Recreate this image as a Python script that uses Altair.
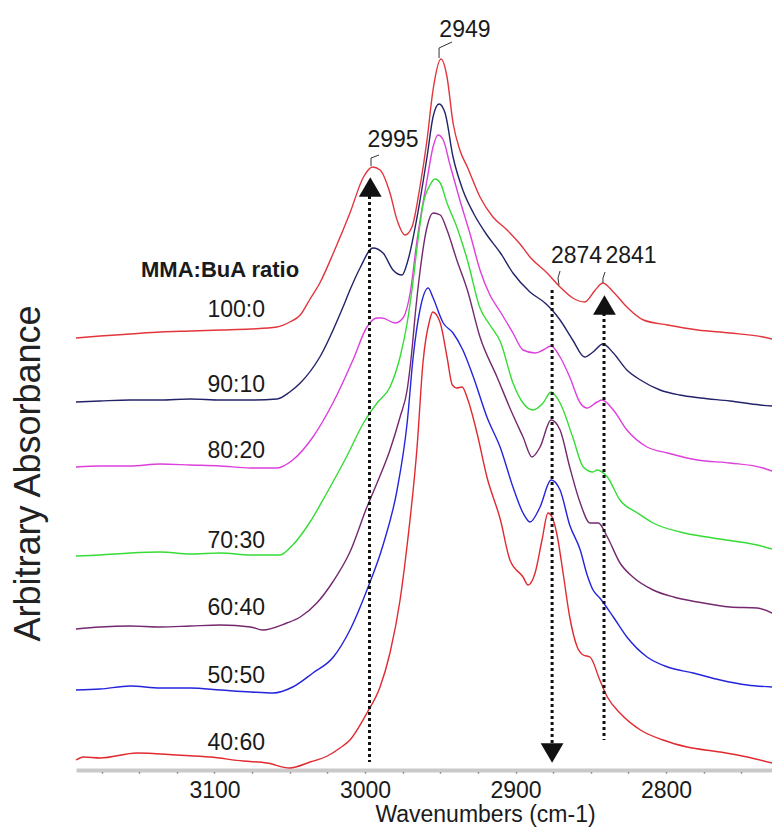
import altair as alt
import pandas as pd

FONT = "Liberation Sans"

ratios = ["100:0", "90:10", "80:20", "70:30", "60:40", "50:50", "40:60"]
colors = ["#e2353c", "#23236a", "#dd3fdd", "#35dc35", "#74286f", "#2424dc", "#e02a30"]

# ---- spectra (wavenumber, arbitrary absorbance) ----
wn_100_0 = [3192, 3176, 3156, 3136, 3116, 3096, 3076, 3058.5, 3050, 3043, 3036.5, 3030, 3021, 3010, 3001, 2995,
            2990, 2983.4, 2978.7, 2973.4, 2968.8, 2963.5, 2958.8, 2954.8, 2949.5, 2945.5, 2941.5, 2937, 2932, 2923.6,
            2915, 2905.6, 2897, 2890.4, 2879, 2870.4, 2862, 2854, 2847, 2842, 2835, 2826, 2815, 2799, 2779, 2757.5,
            2735.5, 2729.6]
ab_100_0 = [43.2, 43.4, 43.6, 43.8, 43.9, 44.0, 44.1, 44.3, 44.8, 45.5, 47.1, 48.7, 51.7, 55.7, 59.3, 60.3,
            60.0, 57.7, 55.0, 53.5, 54.3, 58.3, 63.0, 68.0, 71.1, 69.3, 64.7, 62.0, 60.3, 57.3,
            55.3, 54.0, 52.6, 51.3, 49.7, 48.3, 47.2, 46.8, 48.0, 48.7, 47.8, 46.3, 45.0, 44.5, 44.0, 43.7,
            43.3, 43.1]

wn_90_10 = [3192, 3176, 3156, 3136, 3116, 3096, 3076, 3058.5, 3050, 3043, 3030, 3014.6, 3010, 3003.3, 2994.7, 2988,
            2981.4, 2975.4, 2971.4, 2965.4, 2958.8, 2954.8, 2950.8, 2946.8, 2941.5, 2935, 2928, 2919, 2910, 2901.7,
            2890.4, 2880.4, 2875.7, 2870.4, 2862, 2854, 2848.5, 2842, 2835, 2826, 2817, 2804, 2791, 2777, 2757.5,
            2737.5, 2729.6]
ab_90_10 = [36.8, 36.9, 37.0, 37.0, 37.1, 37.0, 37.0, 37.1, 37.8, 38.7, 41.3, 46.3, 48.0, 50.2, 52.2, 51.7,
            50.0, 49.5, 51.0, 55.3, 61.3, 65.3, 66.6, 65.7, 61.3, 58.0, 55.7, 53.5, 51.7, 49.7,
            47.8, 46.7, 46.0, 45.0, 43.0, 41.3, 41.8, 42.6, 41.7, 40.0, 39.0, 38.0, 37.5, 37.2, 36.9,
            36.5, 36.4]

wn_80_20 = [3192, 3176, 3156, 3136, 3116, 3096, 3076, 3058.5, 3048, 3034.6, 3021, 3008, 2998.7, 2992, 2988.7, 2980,
            2974.8, 2970, 2965.4, 2958.8, 2954.8, 2951.5, 2948, 2943.5, 2937, 2930, 2923.6, 2917, 2910, 2901.7,
            2895, 2887, 2881.7, 2876.4, 2870.4, 2864, 2857, 2852.4, 2845.8, 2842.5, 2835, 2826, 2812.6, 2799, 2779,
            2757.5, 2735.5, 2729.6]
ab_80_20 = [30.3, 30.4, 30.4, 30.6, 30.5, 30.4, 30.2, 30.2, 31.0, 33.3, 36.8, 41.0, 44.3, 45.2, 45.2, 44.7,
            45.2, 47.7, 53.0, 59.0, 62.3, 63.5, 63.0, 60.5, 57.0, 53.5, 50.0, 47.5, 45.8, 43.7,
            42.0, 41.7, 42.0, 42.4, 41.3, 39.3, 36.7, 36.2, 36.8, 37.0, 36.0, 34.0, 32.3, 31.7, 31.0,
            30.7, 30.2, 29.9]

wn_70_30 = [3192, 3176, 3156, 3136, 3116, 3096, 3076, 3056.5, 3048, 3036.5, 3025, 3012, 3001, 2992, 2983.4, 2976.7,
            2972, 2968.8, 2964.8, 2961.5, 2956.8, 2953.5, 2950, 2945.5, 2939, 2932, 2923.6, 2917, 2910, 2901.7,
            2895, 2888.4, 2881.7, 2876.4, 2870.4, 2862, 2855, 2848.5, 2845.8, 2839, 2830.6, 2819, 2808.6, 2790.7,
            2769, 2739.5, 2729.6]
ab_70_30 = [21.4, 21.5, 21.7, 21.8, 21.6, 21.7, 21.5, 21.5, 22.5, 24.8, 27.8, 31.4, 34.7, 36.7, 38.3, 41.3,
            44.7, 48.0, 53.0, 56.5, 58.5, 59.1, 58.7, 56.7, 54.3, 51.0, 46.2, 44.5, 42.8, 38.7,
            36.7, 36.0, 36.7, 37.8, 36.7, 33.3, 30.3, 29.8, 30.0, 29.3, 27.0, 25.7, 24.7, 23.8,
            23.2, 22.5, 22.1]

wn_60_40 = [3192, 3176, 3156, 3136, 3116, 3096, 3076, 3068, 3052, 3043, 3032, 3021, 3010, 2998.7, 2992, 2983.4,
            2976.7, 2972, 2968.8, 2966.8, 2963.5, 2958.8, 2954.8, 2950, 2945.5, 2939, 2932, 2923.6, 2912.3, 2901.7,
            2895, 2889, 2883.7, 2876.4, 2870.4, 2864, 2857, 2850.5, 2845, 2839, 2830.6, 2822, 2808.6, 2795, 2779,
            2757.5, 2739.5, 2729.6]
ab_60_40 = [14.1, 14.3, 14.4, 14.3, 14.4, 14.5, 14.3, 14.0, 14.7, 15.3, 16.7, 18.9, 21.8, 26.3, 28.7, 32.0,
            35.3, 38.0, 42.0, 45.3, 49.8, 54.3, 55.7, 55.5, 54.0, 51.0, 48.0, 43.3, 39.3, 35.5,
            33.3, 31.3, 32.3, 35.0, 34.0, 30.3, 26.7, 24.7, 24.7, 23.3, 20.7, 19.3, 18.0, 17.3, 16.8,
            16.3, 16.2, 15.7]

wn_50_50 = [3192, 3176, 3156, 3136, 3116, 3096, 3076, 3061, 3048, 3034.6, 3021, 3010, 2998.7, 2988, 2978.7, 2972,
            2968, 2963.5, 2958, 2955, 2948, 2941.5, 2935, 2928, 2919, 2910, 2901.7, 2895, 2890.4, 2883.7,
            2876.4, 2870.4, 2864, 2857, 2852.4, 2848.5, 2844, 2835, 2826, 2812.6, 2799, 2782, 2764, 2746, 2729.6]
ab_50_50 = [8.0, 8.1, 8.4, 8.2, 8.2, 8.0, 7.8, 7.7, 8.3, 9.7, 11.3, 14.0, 18.0, 22.5, 28.0, 34.7,
            41.3, 46.0, 48.2, 47.3, 44.7, 43.7, 42.0, 39.3, 35.3, 32.2, 28.3, 25.7, 24.8, 26.3,
            29.0, 28.0, 24.5, 22.0, 19.5, 18.0, 17.2, 15.3, 13.3, 11.3, 10.3, 9.7, 9.0, 8.5, 8.3]

wn_40_60 = [3192, 3187, 3176, 3151.5, 3125, 3103, 3081, 3065, 3050, 3036.5, 3025, 3016.6, 3010, 2998.7, 2990, 2983.4,
            2976.7, 2972, 2965.4, 2961.5, 2957, 2955, 2950, 2945.5, 2942, 2939, 2935.5, 2931.6, 2925.6, 2919,
            2910, 2903.7, 2895, 2891.7, 2887, 2882.4, 2878.4, 2875.7, 2872.4, 2868.4, 2864, 2859, 2855, 2850.5,
            2844, 2839, 2830.6, 2817, 2802, 2786, 2764, 2746, 2729.6]
ab_40_60 = [1.0, 1.3, 1.2, 1.7, 1.5, 1.3, 0.9, 0.7, 0.2, 0.8, 1.4, 2.2, 3.0, 5.7, 8.3, 11.7,
            17.0, 22.5, 32.3, 40.7, 45.0, 45.8, 44.7, 41.3, 38.5, 38.2, 38.3, 37.0, 33.7, 29.3,
            25.0, 21.0, 19.3, 18.5, 19.7, 23.0, 25.7, 25.3, 23.5, 19.7, 15.3, 12.3, 11.5, 11.3,
            9.0, 7.3, 5.7, 4.0, 3.0, 2.3, 1.8, 1.3, 0.7]

series_wn = [wn_100_0, wn_90_10, wn_80_20, wn_70_30, wn_60_40, wn_50_50, wn_40_60]
series_ab = [ab_100_0, ab_90_10, ab_80_20, ab_70_30, ab_60_40, ab_50_50, ab_40_60]

# ---- ratio labels ----
label_wn = [3066.4] * 7
label_ab = [45.3, 37.8, 31.2, 22.2, 15.5, 8.7, 2.0]
header_text = ["MMA:BuA ratio"]
header_wn = [3096.3]
header_ab = [49.3]

# ---- peak annotations ----
peak_text = ["2949", "2995", "2874", "2841"]
peak_wn = [2933.6, 2981.4, 2859.5, 2823.3]
peak_ab = [73.3, 62.3, 50.7, 50.7]

lead_id = ["2949"] * 3 + ["2995"] * 3 + ["2874"] * 3 + ["2841"] * 3
lead_wn = [2950.8, 2950.8, 2942.2, 2996, 2996, 2990.7, 2871.1, 2871.8, 2870.4, 2841.9, 2841.9, 2840.5]
lead_ab = [71.2, 72.2, 72.8, 60.4, 61.2, 61.5, 48.5, 49.2, 49.9, 48.7, 49.2, 49.8]

arrow_wn = [2997, 2875.7, 2841.2]
arrow_ab = [57.4, 48.0, 45.7]
arrow_ab2 = [0.8, 2.5, 3.0]
tri_up_wn = [2996.5, 2840.9]
tri_up_ab = [58.3, 46.5]
tri_dn_wn = [2875.7]
tri_dn_ab = [1.7]

tick_values = [2750 + 25 * i for i in range(18)]

# ---- tables ----
rows = []
for name, wns, abs_ in zip(ratios, series_wn, series_ab):
    assert len(wns) == len(abs_), name
    for w, a in zip(wns, abs_):
        rows.append({"ratio": name, "wn": w, "ab": a})
df_lines = pd.DataFrame(rows)

df_labels = pd.DataFrame({"text": ratios, "wn": label_wn, "ab": label_ab})
df_header = pd.DataFrame({"text": header_text, "wn": header_wn, "ab": header_ab})
df_peaks = pd.DataFrame({"text": peak_text, "wn": peak_wn, "ab": peak_ab})
df_lead = pd.DataFrame({"id": lead_id, "wn": lead_wn, "ab": lead_ab, "i": list(range(len(lead_id)))})
df_arrow = pd.DataFrame({"wn": arrow_wn, "ab": arrow_ab, "ab2": arrow_ab2})
df_up = pd.DataFrame({"wn": tri_up_wn, "ab": tri_up_ab})
df_dn = pd.DataFrame({"wn": tri_dn_wn, "ab": tri_dn_ab})

x_scale = alt.Scale(domain=[2729.6, 3192], reverse=True, nice=False, zero=False)
y_scale = alt.Scale(domain=[0, 75.7], nice=False, zero=False)

x_axis = alt.Axis(
    title="Wavenumbers (cm-1)", values=tick_values, format="d",
    labelExpr="datum.value % 100 === 0 ? datum.label : ''",
    grid=False, domainColor="#c9c9c9", domainWidth=4,
    tickColor="#555555", tickSize=3, tickWidth=1.5,
    labelFont=FONT, labelFontSize=23, labelColor="#1a1a1a",
    labelPadding=24, labelBaseline="alphabetic", labelOverlap=False, labelFlush=False,
    titleFont=FONT, titleFontSize=23, titleFontWeight="normal", titleColor="#1a1a1a",
    titleX=409, titleY=51, titleBaseline="alphabetic", titleAlign="center",
)
y_axis = alt.Axis(
    title="Arbitrary Absorbance", labels=False, ticks=False, domain=False, grid=False,
    titleFont=FONT, titleFontSize=36, titleFontWeight="normal", titleColor="#222222",
    titleAngle=270, titleX=-37, titleY=460, titleBaseline="alphabetic", titleAlign="center",
)

X = alt.X("wn:Q", scale=x_scale, axis=x_axis)
Y = alt.Y("ab:Q", scale=y_scale, axis=y_axis)

lines = alt.Chart(df_lines).mark_line(strokeWidth=1.4, interpolate="monotone").encode(
    x=X, y=Y,
    color=alt.Color("ratio:N", scale=alt.Scale(domain=ratios, range=colors), legend=None),
    detail="ratio:N",
)

leaders = alt.Chart(df_lead).mark_line(strokeWidth=1, color="#333333").encode(
    x=X, y=Y, detail="id:N", order="i:Q"
)

arrows = alt.Chart(df_arrow).mark_rule(strokeWidth=3, strokeDash=[3, 3], color="#111111").encode(
    x=X, y=Y, y2=alt.Y2("ab2:Q")
)

tri_up = alt.Chart(df_up).mark_point(shape="triangle-up", filled=True, size=520, color="#111111", opacity=1).encode(
    x=X, y=Y
)
tri_dn = alt.Chart(df_dn).mark_point(shape="triangle-down", filled=True, size=520, color="#111111", opacity=1).encode(
    x=X, y=Y
)

peaks = alt.Chart(df_peaks).mark_text(font=FONT, fontSize=23, align="center", baseline="alphabetic",
                                      color="#1a1a1a").encode(x=X, y=Y, text="text:N")

labels = alt.Chart(df_labels).mark_text(font=FONT, fontSize=23, align="right", baseline="alphabetic",
                                        color="#1a1a1a").encode(x=X, y=Y, text="text:N")

header = alt.Chart(df_header).mark_text(font=FONT, fontSize=22, fontWeight="bold", align="center",
                                        baseline="alphabetic", color="#1a1a1a").encode(x=X, y=Y, text="text:N")

chart = alt.layer(lines, leaders, arrows, tri_up, tri_dn, peaks, labels, header).properties(
    width=696, height=757,
    padding={"left": 68, "top": 5, "right": 0, "bottom": 57},
    autosize=alt.AutoSizeParams(type="none"),
).configure_view(stroke=None)

chart.save("out.html", embed_options={"renderer": "svg", "actions": False})
